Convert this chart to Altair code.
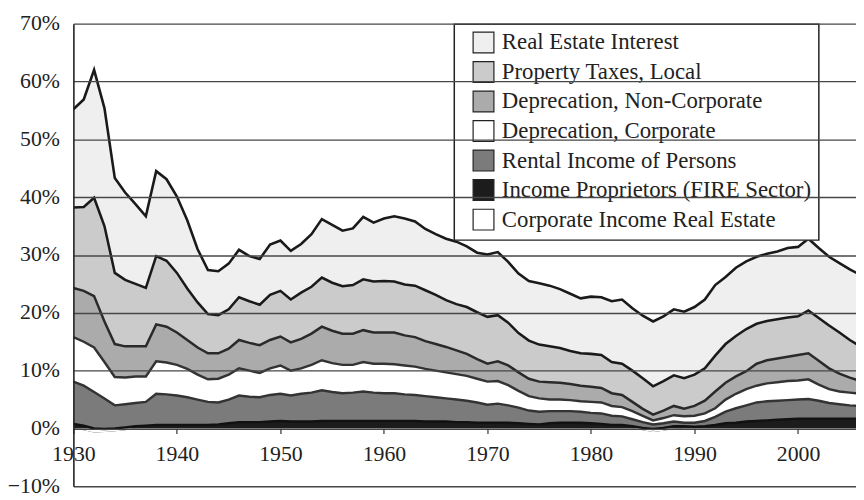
import altair as alt
import pandas as pd

years = list(range(1930, 2007))

series_names = [
    "Real Estate Interest",
    "Property Taxes, Local",
    "Deprecation, Non-Corporate",
    "Deprecation, Corporate",
    "Rental Income of Persons",
    "Income Proprietors (FIRE Sector)",
    "Corporate Income Real Estate",
]

# Cumulative stack tops (% of total), one per series
top_real_estate_interest = [
    55.2, 56.9, 62.0, 55.4, 43.3, 40.8, 38.8, 36.7, 44.5, 43.1,
    40.1, 36.0, 31.0, 27.4, 27.2, 28.5, 30.9, 29.8, 29.3, 31.8,
    32.5, 30.7, 31.9, 33.6, 36.2, 35.2, 34.2, 34.6, 36.6, 35.6,
    36.3, 36.7, 36.3, 35.8, 34.5, 33.6, 32.8, 32.3, 31.5, 30.4,
    30.1, 30.5, 28.8, 26.8, 25.5, 25.1, 24.7, 24.1, 23.3, 22.5,
    22.8, 22.7, 22.0, 22.3, 20.8, 19.5, 18.5, 19.4, 20.6, 20.2,
    21.0, 22.3, 24.8, 26.2, 27.8, 28.9, 29.7, 30.2, 30.6, 31.2,
    31.4, 32.8, 31.2, 29.7, 28.6, 27.5, 26.6,
]
top_property_taxes = [
    38.2, 38.3, 39.9, 35.0, 26.9, 25.7, 25.0, 24.3, 29.8, 29.0,
    26.9, 24.2, 21.8, 19.8, 19.6, 20.6, 22.7, 22.0, 21.4, 23.1,
    23.8, 22.3, 23.5, 24.5, 26.1, 25.2, 24.6, 24.8, 25.8, 25.4,
    25.5, 25.4, 24.9, 24.7, 23.9, 23.1, 22.2, 21.5, 21.0, 20.1,
    19.3, 19.6, 18.3, 16.5, 15.2, 14.5, 14.2, 13.9, 13.4, 13.0,
    12.9, 12.7, 11.5, 11.2, 10.0, 8.7, 7.3, 8.2, 9.2, 8.7,
    9.3, 10.4, 12.6, 14.6, 16.0, 17.2, 18.1, 18.6, 18.9, 19.2,
    19.4, 20.4, 19.1, 17.8, 16.6, 15.3, 14.2,
]
top_dep_noncorp = [
    24.3, 23.8, 22.9, 18.5, 14.6, 14.2, 14.2, 14.2, 18.0, 17.6,
    16.6, 15.3, 14.0, 13.0, 13.0, 13.8, 15.3, 14.8, 14.4, 15.3,
    15.9, 14.9, 15.5, 16.4, 17.6, 16.9, 16.4, 16.4, 17.0, 16.6,
    16.6, 16.6, 16.1, 15.8, 15.1, 14.6, 14.1, 13.5, 12.9, 12.0,
    11.2, 11.6, 10.9, 9.7, 8.6, 8.1, 8.0, 7.9, 7.7, 7.4,
    7.2, 7.0, 6.1, 5.8, 4.6, 3.4, 2.4, 3.1, 3.9, 3.4,
    3.9, 4.8, 6.4, 7.9, 9.0, 9.9, 11.2, 11.8, 12.1, 12.4,
    12.7, 13.0, 11.7, 10.4, 9.5, 8.8, 8.2,
]
top_dep_corp = [
    15.8, 15.0, 14.0, 11.5, 8.9, 8.8, 9.0, 9.0, 11.6, 11.4,
    11.0, 10.3, 9.3, 8.5, 8.6, 9.3, 10.4, 10.0, 9.6, 10.4,
    10.9, 10.0, 10.4, 11.0, 11.8, 11.3, 11.0, 11.0, 11.5, 11.2,
    11.2, 11.1, 10.9, 10.7, 10.3, 10.0, 9.7, 9.4, 9.1, 8.6,
    8.1, 8.2, 7.5, 6.5, 5.6, 5.2, 5.0, 5.0, 4.9, 4.7,
    4.6, 4.5, 3.9, 3.7, 3.0, 2.2, 1.4, 1.8, 2.3, 2.1,
    2.2, 2.6, 3.5, 5.0, 6.0, 6.8, 7.4, 7.8, 8.0, 8.2,
    8.3, 8.5, 7.6, 6.8, 6.4, 6.2, 6.0,
]
top_rental = [
    8.1, 7.4, 6.3, 5.2, 4.0, 4.2, 4.4, 4.6, 6.0, 5.9,
    5.7, 5.4, 5.0, 4.6, 4.5, 5.0, 5.7, 5.5, 5.4, 5.8,
    6.0, 5.7, 6.0, 6.2, 6.6, 6.3, 6.1, 6.2, 6.4, 6.2,
    6.1, 6.1, 5.9, 5.8, 5.6, 5.4, 5.2, 5.0, 4.8, 4.5,
    4.1, 4.3, 4.0, 3.6, 3.1, 2.9, 3.0, 3.0, 3.0, 2.9,
    2.7, 2.6, 2.2, 2.1, 1.6, 1.1, 0.7, 0.9, 1.2, 1.0,
    1.0, 1.3, 2.0, 2.9, 3.5, 4.0, 4.5, 4.7, 4.8, 4.9,
    5.0, 5.1, 4.8, 4.4, 4.2, 4.0, 3.9,
]
top_proprietors = [
    0.8, 0.5, 0.0, -0.1, 0.0, 0.2, 0.4, 0.5, 0.6, 0.6,
    0.6, 0.6, 0.6, 0.6, 0.7, 0.9, 1.1, 1.1, 1.1, 1.2,
    1.3, 1.2, 1.2, 1.2, 1.3, 1.3, 1.3, 1.3, 1.3, 1.3,
    1.3, 1.3, 1.3, 1.3, 1.2, 1.2, 1.2, 1.1, 1.1, 1.0,
    1.0, 1.0, 1.0, 0.9, 0.8, 0.7, 0.9, 1.0, 1.0, 1.0,
    0.9, 0.8, 0.6, 0.6, 0.4, 0.1, -0.1, 0.1, 0.4, 0.4,
    0.3, 0.4, 0.6, 0.9, 1.0, 1.2, 1.3, 1.4, 1.5, 1.6,
    1.7, 1.7, 1.7, 1.7, 1.7, 1.7, 1.7,
]
top_corp_income = (
    [0.0, -0.3, -0.7, -0.6, -0.5, -0.3]
    + [0.0] * 49
    + [-0.3, -0.6, -0.4, -0.1]
    + [0.0] * 18
)

tops = [
    top_real_estate_interest,
    top_property_taxes,
    top_dep_noncorp,
    top_dep_corp,
    top_rental,
    top_proprietors,
    top_corp_income,
]

fills = ["#efefef", "#cbcbcb", "#ababab", "#ffffff", "#7b7b7b", "#1c1c1c", "#ffffff"]
line_widths = [2.6, 2.4, 1.6, 1.2, 1.0, 0.8]
line_colors = ["#1a1a1a", "#1a1a1a", "#2a2a2a", "#333333", "#333333", "#111111"]

rows = []
for i, name in enumerate(series_names):
    upper = tops[i]
    lower = tops[i + 1] if i + 1 < len(tops) else [0.0] * len(years)
    for j, yr in enumerate(years):
        rows.append({"year": yr, "series": name, "upper": upper[j], "lower": lower[j], "order": i})
df = pd.DataFrame(rows)
df_lines = df[df["series"] != "Corporate Income Real Estate"]

FONT = "Liberation Serif"
xscale = alt.Scale(domain=[1930, 2005.6], nice=False, zero=False)
yscale = alt.Scale(domain=[-10, 70], nice=False, zero=False)

areas = alt.Chart(df).mark_area(clip=True, interpolate="linear", opacity=1).encode(
    x=alt.X(
        "year:Q",
        scale=xscale,
        axis=alt.Axis(
            values=[1930, 1940, 1950, 1960, 1970, 1980, 1990, 2000],
            format="d",
            title=None,
            grid=False,
            domain=False,
            offset=-58.4,
            tickSize=5,
            tickColor="#333333",
            tickWidth=1.2,
            labelFlush=False,
            labelOverlap=False,
            labelFont=FONT,
            labelFontSize=22,
            labelColor="#222222",
            labelPadding=10,
            zindex=1,
        ),
    ),
    y=alt.Y(
        "upper:Q",
        scale=yscale,
        axis=alt.Axis(
            values=[-10, 0, 10, 20, 30, 40, 50, 60, 70],
            labelExpr="(datum.value < 0 ? '\u2212' + abs(datum.value) : datum.value) + '%'",
            title=None,
            ticks=False,
            grid=True,
            gridColor="#474747",
            gridWidth=1.4,
            domainColor="#222222",
            domainWidth=1.6,
            labelFlush=False,
            labelOverlap=False,
            labelFont=FONT,
            labelFontSize=22,
            labelColor="#222222",
            labelPadding=14,
            labelOffset=-1,
            zindex=1,
        ),
    ),
    y2="lower:Q",
    fill=alt.Fill(
        "series:N",
        scale=alt.Scale(domain=series_names, range=fills),
        sort=series_names,
        legend=alt.Legend(
            title=None,
            orient="none",
            legendX=384.5,
            legendY=0.5,
            symbolType="square",
            symbolSize=441,
            symbolStrokeColor="#222222",
            symbolStrokeWidth=1.2,
            symbolOpacity=1,
            symbolOffset=11,
            labelFont=FONT,
            labelFontSize=23,
            labelColor="#222222",
            labelOffset=7,
            labelLimit=500,
            rowPadding=2.8,
            padding=7,
            strokeColor="#222222",
            fillColor="#ffffff",
        ),
    ),
    order=alt.Order("order:Q"),
)

lines = alt.Chart(df_lines).mark_line(clip=True, interpolate="linear").encode(
    x=alt.X("year:Q", scale=xscale),
    y=alt.Y("upper:Q", scale=yscale),
    detail="series:N",
    strokeWidth=alt.StrokeWidth(
        "series:N",
        scale=alt.Scale(domain=series_names[:6], range=line_widths),
        legend=None,
    ),
    stroke=alt.Stroke(
        "series:N",
        scale=alt.Scale(domain=series_names[:6], range=line_colors),
        legend=None,
    ),
)

chart = (
    alt.layer(areas, lines)
    .properties(
        width=790,
        height=467,
        autosize=alt.AutoSizeParams(type="none"),
        padding={"left": 66, "top": 13.5, "right": 0, "bottom": 11},
        background="#ffffff",
    )
    .configure(font=FONT)
    .configure_view(strokeWidth=0)
    .configure_legend(strokeWidth=1.5)
)

chart.save("out.html", embed_options={"renderer": "svg", "actions": False})
